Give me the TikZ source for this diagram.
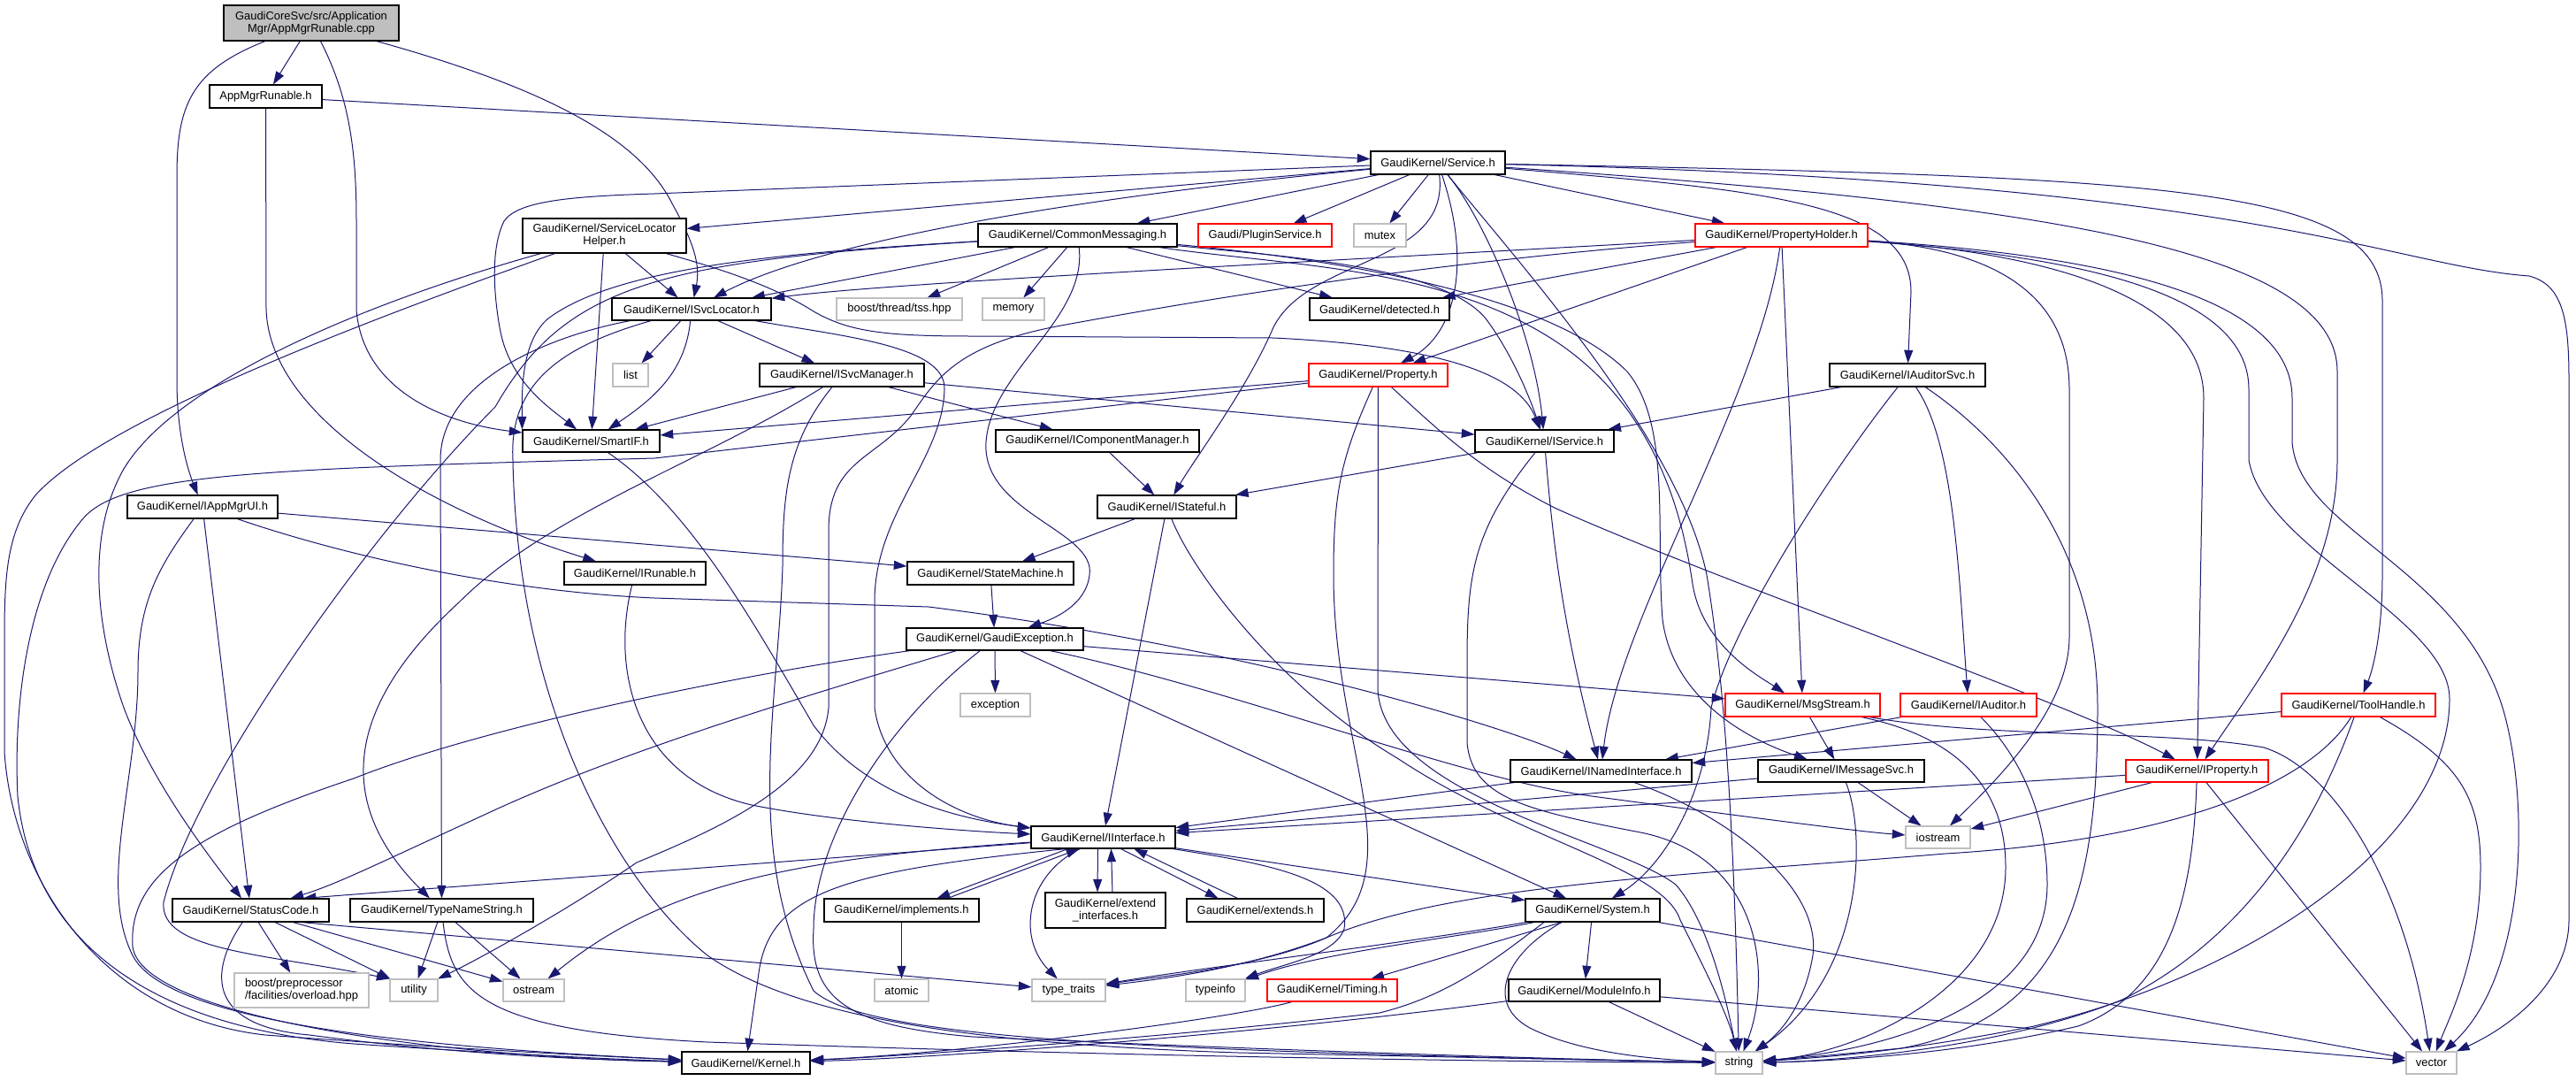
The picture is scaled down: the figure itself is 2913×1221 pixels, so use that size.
\documentclass[tikz,border=0pt]{standalone}
\usepackage{fontspec}
\setmainfont{Liberation Sans}
\usetikzlibrary{arrows.meta,calc}
\definecolor{edgec}{HTML}{191970}
\definecolor{grayb}{HTML}{BFBFBF}
\pgfdeclarelayer{back}
\pgfdeclarelayer{edges}
\pgfsetlayers{back,edges,main}
\newcommand\gnode[7]{\node[#2,minimum width={(#4-#3)*0.75pt},minimum height={(#6-#5)*0.75pt}] (#1) at ({(#3+#4)/2},{(#5+#6)/2}) {#7};}
\begin{document}
\begin{tikzpicture}[x=0.75pt,y=-0.75pt,
  font=\fontsize{9.7}{10.4}\selectfont,
  nd/.style={draw=black,line width=0.8pt,inner sep=0pt,align=center,rectangle,fill=white},
  ng/.style={nd,draw=grayb},
  nr/.style={nd,draw=red},
  dep/.style={draw=edgec,line width=0.75pt,-{Triangle[length=11pt,width=7.5pt]}}]
\useasboundingbox (0,0) rectangle (2913,1221);
\begin{pgfonlayer}{back}
\fill[white] (0,0) rectangle (2913,1221);
\end{pgfonlayer}

\gnode{cpp}{nd,fill=grayb}{253}{451}{6}{46}{GaudiCoreSvc/src/Application\\Mgr/AppMgrRunable.cpp}
\gnode{amrh}{nd}{237}{364}{96}{122}{AppMgrRunable.h}
\gnode{service}{nd}{1550}{1702}{171}{197}{GaudiKernel/Service.h}
\gnode{slh}{nd}{591}{776}{247}{286}{GaudiKernel/ServiceLocator\\Helper.h}
\gnode{cm}{nd}{1106}{1331}{253}{279}{GaudiKernel/CommonMessaging.h}
\gnode{plugin}{nr}{1355}{1506}{253}{279}{Gaudi/PluginService.h}
\gnode{mutex}{ng}{1531}{1590}{253}{279}{mutex}
\gnode{ph}{nr}{1917}{2112}{253}{279}{GaudiKernel/PropertyHolder.h}
\gnode{isl}{nd}{692}{872}{337}{362}{GaudiKernel/ISvcLocator.h}
\gnode{tss}{ng}{946}{1088}{337}{362}{boost/thread/tss.hpp}
\gnode{memory}{ng}{1111}{1181}{337}{362}{memory}
\gnode{detected}{nd}{1481}{1639}{337}{362}{GaudiKernel/detected.h}
\gnode{list}{ng}{693}{733}{411}{437}{list}
\gnode{isvcm}{nd}{859}{1045}{411}{437}{GaudiKernel/ISvcManager.h}
\gnode{property}{nr}{1480}{1637}{411}{437}{GaudiKernel/Property.h}
\gnode{iauditorsvc}{nd}{2069}{2245}{411}{437}{GaudiKernel/IAuditorSvc.h}
\gnode{smartif}{nd}{591}{746}{486}{511}{GaudiKernel/SmartIF.h}
\gnode{icm}{nd}{1126}{1356}{486}{511}{GaudiKernel/IComponentManager.h}
\gnode{iservice}{nd}{1668}{1825}{486}{511}{GaudiKernel/IService.h}
\gnode{iappmgrui}{nd}{144}{314}{560}{586}{GaudiKernel/IAppMgrUI.h}
\gnode{istateful}{nd}{1241}{1398}{560}{586}{GaudiKernel/IStateful.h}
\gnode{irunable}{nd}{638}{798}{635}{661}{GaudiKernel/IRunable.h}
\gnode{statemachine}{nd}{1026}{1214}{635}{661}{GaudiKernel/StateMachine.h}
\gnode{gaudiexc}{nd}{1025}{1225}{710}{735}{GaudiKernel/GaudiException.h}
\gnode{exception}{ng}{1086}{1165}{784}{810}{exception}
\gnode{msgstream}{nr}{1951}{2126}{784}{810}{GaudiKernel/MsgStream.h}
\gnode{iauditor}{nr}{2149}{2303}{784}{810}{GaudiKernel/IAuditor.h}
\gnode{toolhandle}{nr}{2580}{2754}{784}{810}{GaudiKernel/ToolHandle.h}
\gnode{inamed}{nd}{1708}{1913}{859}{884}{GaudiKernel/INamedInterface.h}
\gnode{imsgsvc}{nd}{1988}{2176}{859}{884}{GaudiKernel/IMessageSvc.h}
\gnode{iproperty}{nr}{2404}{2565}{859}{884}{GaudiKernel/IProperty.h}
\gnode{iostream}{ng}{2155}{2228}{934}{959}{iostream}
\gnode{iinterface}{nd}{1166}{1329}{934}{959}{GaudiKernel/IInterface.h}
\gnode{statuscode}{nd}{195}{372}{1016}{1042}{GaudiKernel/StatusCode.h}
\gnode{typename}{nd}{396}{603}{1016}{1042}{GaudiKernel/TypeNameString.h}
\gnode{implements}{nd}{932}{1107}{1016}{1042}{GaudiKernel/implements.h}
\gnode{extendif}{nd}{1182}{1318}{1009}{1049}{GaudiKernel/extend\\\_interfaces.h}
\gnode{extends}{nd}{1342}{1497}{1016}{1042}{GaudiKernel/extends.h}
\gnode{system}{nd}{1725}{1877}{1016}{1042}{GaudiKernel/System.h}
\gnode{overload}{ng,align=left}{265}{417}{1100}{1139}{boost/preprocessor\\/facilities/overload.hpp}
\gnode{utility}{ng}{441}{495}{1107}{1132}{utility}
\gnode{ostream}{ng}{569}{638}{1107}{1132}{ostream}
\gnode{atomic}{ng}{989}{1050}{1107}{1132}{atomic}
\gnode{typetraits}{ng}{1167}{1250}{1107}{1132}{type\_traits}
\gnode{typeinfo}{ng}{1341}{1408}{1107}{1132}{typeinfo}
\gnode{timing}{nr}{1433}{1580}{1107}{1132}{GaudiKernel/Timing.h}
\gnode{moduleinfo}{nd}{1706}{1877}{1107}{1132}{GaudiKernel/ModuleInfo.h}
\gnode{kernel}{nd}{771}{916}{1189}{1214}{GaudiKernel/Kernel.h}
\gnode{string}{ng}{1940}{1993}{1189}{1214}{string}
\gnode{vector}{ng}{2721}{2778}{1189}{1214}{vector}

\begin{pgfonlayer}{edges}
% cpp
\draw[dep] (cpp) -- (amrh);
\draw[dep] (cpp) .. controls (215,80) and (200,120) .. (200,200) -- (200,430) .. controls (200,490) and (212,530) .. (iappmgrui);
\draw[dep] (cpp) .. controls (395,110) and (403,170) .. (403,250) -- (403,350) .. controls (410,440) and (500,478) .. (smartif);
\draw[dep] (cpp) .. controls (600,95) and (720,150) .. (760,230) .. controls (785,275) and (792,300) .. (isl);
% AppMgrRunable.h
\draw[dep] (amrh) -- (service);
\draw[dep] (amrh) -- (301,350) .. controls (305,470) and (480,575) .. (irunable);
% Service.h
\draw[dep] (service) -- (slh);
\draw[dep] (service) -- (cm);
\draw[dep] (service) -- (plugin);
\draw[dep] (service) -- (mutex);
\draw[dep] (service) -- (ph);
\draw[dep] (service) .. controls (1300,215) and (950,262) .. (isl);
\draw[dep] (service) -- (740,219) .. controls (640,222) and (585,228) .. (570,250) .. controls (555,280) and (558,330) .. (565,370) .. controls (575,430) and (620,460) .. (smartif);
\draw[dep] (service) .. controls (1665,300) and (1645,378) .. (property);
\draw[dep] (service) .. controls (1680,250) and (1735,380) .. (iservice);
\draw[dep] (service) .. controls (1640,300) and (1480,290) .. (1440,370) .. controls (1410,440) and (1350,520) .. (istateful);
\draw[dep] (service) .. controls (2000,215) and (2161,230) .. (2161,330) -- (iauditorsvc);
\draw[dep] (service) .. controls (2300,230) and (2643,280) .. (2643,420) -- (2643,520) .. controls (2643,650) and (2560,760) .. (iproperty);
\draw[dep] (service) .. controls (2450,200) and (2694,210) .. (2694,340) -- (2694,650) .. controls (2694,720) and (2682,760) .. (toolhandle);
\draw[dep] (service) .. controls (2550,205) and (2700,300) .. (2860,312) .. controls (2898,322) and (2905,360) .. (2905,430) -- (2905,1040) .. controls (2905,1110) and (2840,1160) .. (vector);
\draw[dep] (service) .. controls (1720,300) and (1900,500) .. (1930,650) .. controls (1955,800) and (1962,1000) .. (string);
% ServiceLocatorHelper.h
\draw[dep] (slh) -- (isl);
\draw[dep] (slh) -- (smartif);
\draw[dep] (slh) .. controls (800,300) and (870,320) .. (920,352) .. controls (960,375) and (1000,380) .. (1100,380) -- (1440,382) .. controls (1650,392) and (1720,430) .. (iservice);
\draw[dep] (slh) .. controls (420,340) and (200,430) .. (140,530) .. controls (100,600) and (105,700) .. (140,800) .. controls (170,880) and (230,960) .. (statuscode);
\draw[dep] (slh) .. controls (450,350) and (120,470) .. (40,560) .. controls (8,600) and (5,650) .. (5,720) -- (5,850) .. controls (15,1000) and (120,1150) .. (300,1170) .. controls (500,1185) and (700,1195) .. (kernel);
% CommonMessaging.h
\draw[dep] (cm) -- (isl);
\draw[dep] (cm) -- (tss);
\draw[dep] (cm) -- (memory);
\draw[dep] (cm) -- (detected);
\draw[dep] (cm) .. controls (900,285) and (700,300) .. (620,360) .. controls (590,385) and (590,440) .. (smartif.north west);
\draw[dep] (cm) .. controls (1230,360) and (1120,420) .. (1115,500) .. controls (1110,580) and (1240,600) .. (1232,650) .. controls (1228,685) and (1190,700) .. (gaudiexc);
\draw[dep] (cm) .. controls (1450,300) and (1620,300) .. (1750,380) .. controls (1880,460) and (1905,600) .. (1914,660) .. controls (1925,730) and (1990,765) .. (msgstream);
\draw[dep] (cm) .. controls (1500,292) and (1750,330) .. (1840,420) .. controls (1890,480) and (1872,600) .. (1880,700) .. controls (1890,780) and (1960,830) .. (imsgsvc);
\draw[dep] (cm) .. controls (1450,290) and (1630,300) .. (1680,360) .. controls (1710,400) and (1730,450) .. (iservice);
\draw[dep] (cm) .. controls (750,295) and (640,320) .. (560,460) .. controls (420,600) and (220,880) .. (185,1020) .. controls (180,1075) and (300,1078) .. (utility.north west);
% PropertyHolder.h
\draw[dep] (ph) .. controls (1500,295) and (1000,320) .. (isl);
\draw[dep] (ph) -- (detected);
\draw[dep] (ph) -- (property);
\draw[dep] (ph) -- (msgstream);
\draw[dep] (ph) .. controls (1990,450) and (1830,700) .. (inamed);
\draw[dep] (ph) .. controls (2300,285) and (2492,330) .. (2492,450) -- (iproperty);
\draw[dep] (ph) .. controls (2280,283) and (2340,350) .. (2340,440) -- (2340,720) .. controls (2340,800) and (2260,880) .. (iostream);
\draw[dep] (ph) .. controls (2350,290) and (2543,330) .. (2543,440) -- (2543,520) .. controls (2560,620) and (2770,700) .. (2770,790) .. controls (2770,950) and (2550,1100) .. (2300,1160) .. controls (2150,1190) and (2050,1196) .. (string);
\draw[dep] (ph) .. controls (2400,290) and (2592,340) .. (2592,450) -- (2592,500) .. controls (2600,600) and (2780,640) .. (2830,800) .. controls (2860,900) and (2860,1100) .. (vector);
\draw[dep] (ph) .. controls (1700,290) and (1460,320) .. (1200,368) .. controls (1080,390) and (1058,430) .. (1030,470) .. controls (990,520) and (937,520) .. (937,600) -- (937,800) .. controls (930,880) and (830,930) .. (720,975) .. controls (640,1030) and (540,1085) .. (utility);
% ISvcLocator.h
\draw[dep] (isl) -- (list);
\draw[dep] (isl) .. controls (775,420) and (740,450) .. (smartif);
\draw[dep] (isl) -- (isvcm);
\draw[dep] (isl) .. controls (620,380) and (498,430) .. (498,520) -- (typename);
\draw[dep] (isl) .. controls (950,380) and (1070,390) .. (1068,440) .. controls (1066,520) and (989,580) .. (989,680) -- (989,800) .. controls (1000,880) and (1080,925) .. (iinterface);
\draw[dep] (isl) .. controls (640,390) and (575,430) .. (580,520) .. controls (585,800) and (700,1000) .. (800,1080) .. controls (900,1150) and (1100,1180) .. (1400,1190) -- (string);
% ISvcManager.h
\draw[dep] (isvcm) -- (smartif);
\draw[dep] (isvcm) -- (iservice);
\draw[dep] (isvcm) -- (icm);
\draw[dep] (isvcm) .. controls (800,520) and (620,580) .. (520,680) .. controls (400,790) and (370,900) .. (typename);
\draw[dep] (isvcm) .. controls (890,500) and (885,560) .. (885,640) .. controls (880,800) and (840,960) .. (920,1120) .. controls (980,1175) and (1300,1188) .. (string);
% IComponentManager.h
\draw[dep] (icm) -- (istateful);
% Property.h
\draw[dep] (property) -- (smartif);
\draw[dep] (property) -- (740,518) .. controls (300,530) and (140,535) .. (95,585) .. controls (30,660) and (15,800) .. (20,900) .. controls (35,1050) and (150,1160) .. (400,1180) .. controls (550,1190) and (700,1198) .. (kernel);
\draw[dep] (property) .. controls (1620,480) and (1670,530) .. (1760,575) .. controls (1950,660) and (2330,790) .. (iproperty);
\draw[dep] (property) -- (1558,780) .. controls (1565,900) and (1830,950) .. (1895,1000) .. controls (1930,1040) and (1950,1120) .. (string);
\draw[dep] (property) .. controls (1515,520) and (1508,560) .. (1508,650) .. controls (1508,850) and (1600,980) .. (1500,1060) .. controls (1420,1095) and (1300,1105) .. (typetraits);
% IService.h
\draw[dep] (iservice) -- (istateful);
\draw[dep] (iservice) .. controls (1755,600) and (1765,700) .. (inamed);
\draw[dep] (iservice) .. controls (1665,600) and (1659,650) .. (1659,750) -- (1659,840) .. controls (1665,900) and (1720,915) .. (1850,940) .. controls (1990,965) and (2005,1100) .. (string);
% IAuditorSvc.h
\draw[dep] (iauditorsvc) -- (iservice);
\draw[dep] (iauditorsvc) .. controls (2210,500) and (2215,650) .. (iauditor);
\draw[dep] (iauditorsvc) .. controls (2080,520) and (1960,700) .. (1935,800) .. controls (1930,900) and (1880,980) .. (system);
\draw[dep] (iauditorsvc) .. controls (2270,500) and (2372,620) .. (2372,800) .. controls (2372,1000) and (2340,1150) .. (2150,1185) .. controls (2050,1195) and (2010,1198) .. (string);
% IStateful.h
\draw[dep] (istateful) -- (statemachine);
\draw[dep] (istateful) -- (iinterface);
\draw[dep] (istateful) .. controls (1350,650) and (1450,780) .. (1580,857) .. controls (1720,950) and (1880,980) .. (1900,1040) .. controls (1930,1100) and (1955,1150) .. (string);
% IAppMgrUI.h
\draw[dep] (iappmgrui) -- (statuscode);
\draw[dep] (iappmgrui) .. controls (180,640) and (156,680) .. (156,760) .. controls (156,880) and (110,1000) .. (150,1080) .. controls (190,1160) and (500,1185) .. (kernel);
\draw[dep] (iappmgrui) -- (statemachine);
\draw[dep] (iappmgrui) .. controls (380,625) and (560,668) .. (740,676) -- (1050,686) .. controls (1400,730) and (1700,820) .. (inamed);
% IRunable.h
\draw[dep] (irunable) .. controls (690,760) and (720,880) .. (850,910) .. controls (950,930) and (1100,940) .. (iinterface);
% SmartIF.h
\draw[dep] (smartif) .. controls (780,575) and (850,700) .. (920,820) .. controls (980,900) and (1080,925) .. (iinterface);
% StateMachine.h
\draw[dep] (statemachine) -- (gaudiexc);
% GaudiException.h
\draw[dep] (gaudiexc) -- (exception);
\draw[dep] (gaudiexc) -- (msgstream);
\draw[dep] (gaudiexc) .. controls (900,790) and (700,850) .. (550,920) .. controls (430,975) and (380,1000) .. (statuscode);
\draw[dep] (gaudiexc) .. controls (850,760) and (550,820) .. (400,880) .. controls (220,940) and (145,990) .. (150,1070) .. controls (160,1150) and (500,1195) .. (kernel);
\draw[dep] (gaudiexc) .. controls (1000,820) and (920,950) .. (920,1050) .. controls (915,1130) and (960,1160) .. (1100,1172) .. controls (1500,1190) and (1800,1198) .. (string);
\draw[dep] (gaudiexc) -- (system);
\draw[dep] (gaudiexc) .. controls (1400,780) and (1650,880) .. (1800,900) .. controls (1950,920) and (2100,940) .. (iostream);
% MsgStream.h
\draw[dep] (msgstream) -- (imsgsvc);
\draw[dep] (msgstream) .. controls (2200,830) and (2268,880) .. (2268,980) .. controls (2268,1120) and (2100,1190) .. (string);
\draw[dep] (msgstream) .. controls (2250,835) and (2450,825) .. (2560,845) .. controls (2640,870) and (2720,1000) .. (vector);
% IAuditor.h
\draw[dep] (iauditor) -- (inamed);
\draw[dep] (iauditor) .. controls (2290,860) and (2315,930) .. (2315,1000) .. controls (2315,1130) and (2150,1185) .. (string);
% ToolHandle.h
\draw[dep] (toolhandle) -- (inamed);
\draw[dep] (toolhandle) .. controls (2610,890) and (2450,950) .. (2200,965) .. controls (1900,990) and (1640,1000) .. (1500,1060) .. controls (1400,1098) and (1300,1108) .. (typetraits);
\draw[dep] (toolhandle) .. controls (2630,900) and (2560,1050) .. (2400,1130) .. controls (2250,1190) and (2050,1200) .. (string);
\draw[dep] (toolhandle) .. controls (2780,860) and (2805,900) .. (2805,980) .. controls (2805,1080) and (2770,1150) .. (vector);
% INamedInterface.h
\draw[dep] (inamed) -- (iinterface);
\draw[dep] (inamed) .. controls (1950,920) and (2060,1000) .. (2050,1080) .. controls (2040,1140) and (2010,1170) .. (string);
% IMessageSvc.h
\draw[dep] (imsgsvc) -- (iinterface);
\draw[dep] (imsgsvc) -- (iostream);
\draw[dep] (imsgsvc) .. controls (2110,940) and (2110,1100) .. (string);
% IProperty.h
\draw[dep] (iproperty) -- (iinterface);
\draw[dep] (iproperty) -- (iostream);
\draw[dep] (iproperty) .. controls (2480,1000) and (2460,1120) .. (2350,1160) .. controls (2200,1195) and (2050,1200) .. (string);
\draw[dep] (iproperty) -- (vector);
% IInterface.h
\draw[dep] (iinterface) -- ($(statuscode.north east)+(-30,0)$);
\draw[dep] ($(iinterface.south)+(-40,0)$) -- ($(implements.north)+(40,0)$);
\draw[dep] ($(implements.north)+(52,0)$) -- ($(iinterface.south)+(-27,0)$);
\draw[dep] ($(iinterface.south)+(-6,0)$) -- ($(extendif.north)+(-9,0)$);
\draw[dep] ($(extendif.north)+(8,0)$) -- ($(iinterface.south)+(9,0)$);
\draw[dep] ($(iinterface.south)+(20,0)$) -- ($(extends.north)+(-42,0)$);
\draw[dep] ($(extends.north)+(-20,0)$) -- ($(iinterface.south)+(35,0)$);
\draw[dep] (iinterface) -- (system);
\draw[dep] (iinterface) .. controls (1160,990) and (1150,1060) .. (typetraits);
\draw[dep] (iinterface) .. controls (900,970) and (750,1000) .. (ostream);
\draw[dep] ($(iinterface.south)+(-42,0)$) .. controls (950,985) and (870,1010) .. (858,1100) -- (kernel);
\draw[dep] (iinterface) .. controls (1420,975) and (1530,990) .. (1520,1050) .. controls (1510,1080) and (1450,1090) .. (typeinfo);
% implements.h
\draw[dep] (implements) -- (atomic);
% StatusCode.h
\draw[dep] (statuscode) -- (overload);
\draw[dep] (statuscode) -- (utility);
\draw[dep] (statuscode) -- (ostream);
\draw[dep] ($(statuscode.south)+(57,0)$) -- (typetraits);
\draw[dep] (statuscode) .. controls (235,1100) and (235,1160) .. (350,1170) .. controls (500,1190) and (650,1198) .. (kernel);
% TypeNameString.h
\draw[dep] (typename) -- (utility);
\draw[dep] (typename) -- (ostream);
\draw[dep] (typename) .. controls (510,1120) and (540,1165) .. (800,1178) .. controls (1300,1195) and (1700,1200) .. (string);
% System.h
\draw[dep] ($(system.south)+(-35,0)$) -- (timing);
\draw[dep] (system) -- (moduleinfo);
\draw[dep] ($(system.south)+(-55,0)$) .. controls (1690,1085) and (1640,1125) .. (1560,1145) .. controls (1300,1175) and (1000,1195) .. (kernel);
\draw[dep] ($(system.south)+(-35,0)$) .. controls (1700,1080) and (1680,1135) .. (1730,1162) .. controls (1790,1192) and (1880,1198) .. (string);
\draw[dep] (system) -- (vector);
\draw[dep] (system) .. controls (1650,1060) and (1500,1075) .. (typeinfo);
\draw[dep] (system) .. controls (1600,1065) and (1350,1095) .. (typetraits);
% Timing.h
\draw[dep] (timing) .. controls (1400,1150) and (1100,1190) .. (kernel);
% ModuleInfo.h
\draw[dep] (moduleinfo) .. controls (1500,1160) and (1100,1195) .. (kernel);
\draw[dep] (moduleinfo) -- (string);
\draw[dep] (moduleinfo) -- (vector);
\end{pgfonlayer}
\end{tikzpicture}
\end{document}
